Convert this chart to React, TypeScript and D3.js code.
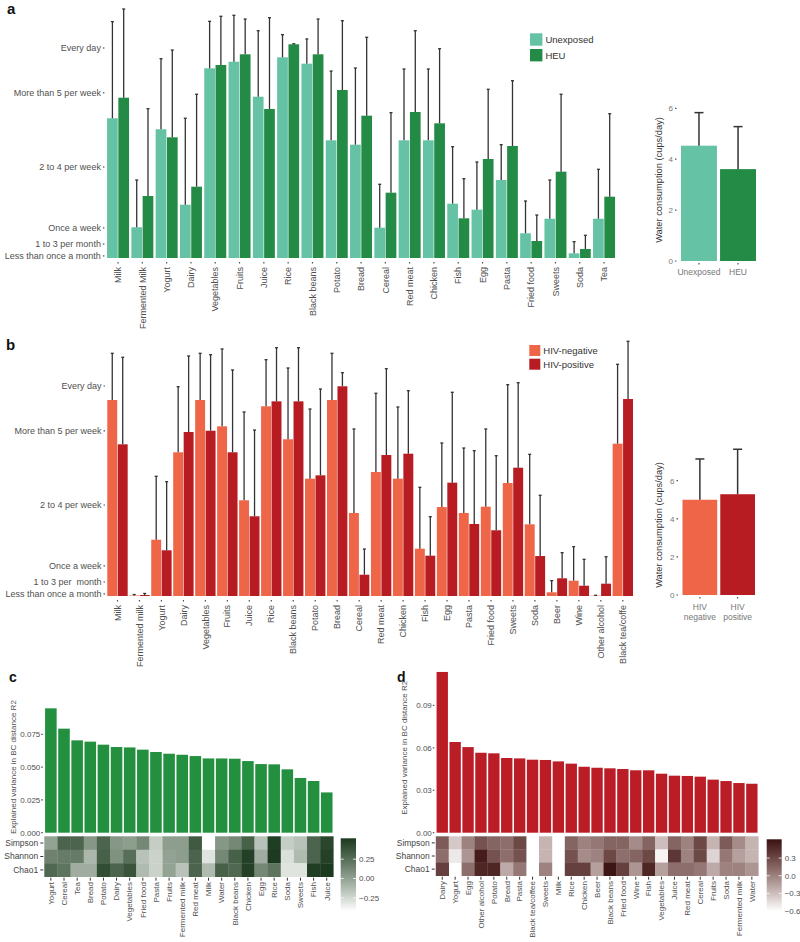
import React from 'react';
import * as d3 from 'd3';

const FONT = '"Liberation Sans", Arial, Helvetica, sans-serif';
const TXT = '#4f4f4f';
const ERR = '#333333';

// ---------- Panel a ----------
const catsA = ["Milk","Fermented Milk","Yogurt","Dairy","Vegetables","Fruits","Juice","Rice","Black beans","Potato","Bread","Cereal","Red meat","Chicken","Fish","Egg","Pasta","Fried food","Sweets","Soda","Tea"];
const unexposedMean = [19.96,4.39,18.39,7.61,27.1,28.04,23.04,28.67,27.76,16.81,16.19,4.33,16.81,16.81,7.76,6.9,11.14,3.53,5.61,0.67,5.61];
const unexposedUpper = [33.76,11.14,28.47,19.96,33.81,34.67,32.47,31.9,31.29,26.71,27.14,10.53,27,27,15.9,13.71,16.19,8.14,11.14,2.33,12.67];
const heuMean = [22.9,8.86,17.24,10.19,27.57,29.1,21.29,30.53,29.1,24,20.33,9.33,20.86,19.24,5.67,14.14,16,2.43,12.33,1.29,8.76];
const heuUpper = [35.57,21.33,29.71,23.39,34.53,34.14,34.33,30.61,34.14,33.9,31.53,20.76,32.47,29.9,11.33,24.1,25.33,6.14,23.39,3.24,20.61];
const seriesA = ["Unexposed","HEU"];

// frequency axis (times per month)
const freqTickValues = [0.3, 2, 4.3, 13, 23.6, 30];
const freqTickLabelsA = ["Less than once a month","1 to 3 per month","Once a week","2 to 4 per week","More than 5 per week","Every day"];
const freqTickLabelsB = ["Less than once a month","1 to 3 per  month","Once a week","2 to 4 per week","More than 5 per week","Every day"];

const waterGroupsA = [["Unexposed"],["HEU"]];
const waterMeanA = [4.53, 3.61];
const waterUpperA = [5.83, 5.28];
const waterTicks = [0, 2, 4, 6];

// ---------- Panel b ----------
const catsB = ["Milk","Fermented milk","Yogurt","Dairy","Vegetables","Fruits","Juice","Rice","Black beans","Potato","Bread","Cereal","Red meat","Chicken","Fish","Egg","Pasta","Fried food","Sweets","Soda","Beer","Wine","Other alcohol","Black tea/coffe"];
const hivNegMean = [28,0.07,8.04,20.53,28,24.24,13.67,27.1,22.39,16.76,28,11.86,17.71,16.76,6.76,12.71,11.86,12.76,16.14,10.24,0.53,2.19,0.05,21.76];
const hivNegUpper = [34.67,0.21,17.1,29.9,34.67,35.29,26.29,33.76,32.57,26.71,34.67,23.86,28.96,27,15.53,21.86,21.14,23.86,30.19,20.24,2.19,7.04,0.1,33.1];
const hivPosMean = [21.67,0.14,6.53,23.43,23.61,20.53,11.39,27.81,27.81,17.24,29.96,3.04,20.14,20.33,5.76,16.19,10.29,9.39,18.33,5.71,2.53,1.47,1.76,28.14];
const hivPosUpper = [34.1,0.36,16.33,34.29,34.47,32.29,23.71,35.47,35.47,29.57,31.9,6.71,32.47,29.33,11.33,29.1,20.76,20.04,30.47,14.39,6.19,5.24,5.61,36.39];
const seriesB = ["HIV-negative","HIV-positive"];

const waterGroupsB = [["HIV","negative"],["HIV","positive"]];
const waterMeanB = [5.0, 5.29];
const waterUpperB = [7.14, 7.65];

// ---------- Panel c ----------
const catsC = ["Yogurt","Cereal","Tea","Bread","Potato","Dairy","Vegetables","Fried food","Pasta","Fruits","Fermented milk","Red meat","Milk","Water","Black beans","Chicken","Egg","Rice","Soda","Sweets","Fish","Juice"];
const r2C = [0.0948,0.0793,0.0704,0.0694,0.0671,0.0653,0.065,0.0633,0.0615,0.0602,0.0594,0.0584,0.0566,0.0566,0.0564,0.0546,0.0523,0.0521,0.0483,0.0417,0.0394,0.0307];
const simpsonC = [0.0,0.3,0.3,0.05,0.3,0.05,0.02,0.12,-0.2,0.02,0.02,0.35,-0.45,0.05,0.12,0.32,-0.15,0.5,-0.2,-0.15,0.3,0.45];
const shannonC = [0.15,0.18,0.18,-0.1,0.32,0.08,0.25,-0.15,-0.22,0.0,0.02,0.3,-0.3,0.12,0.32,0.48,-0.05,0.52,-0.28,-0.12,0.3,0.48];
const chao1C = [0.28,0.22,-0.05,-0.05,0.42,0.3,0.38,-0.12,-0.22,0.0,-0.15,0.3,-0.12,0.32,0.28,0.48,0.12,0.22,-0.3,-0.3,0.5,0.52];
const ticksC = [0, 0.025, 0.05, 0.075];
const cbTicksC = [-0.25, 0, 0.25];

// ---------- Panel d ----------
const catsD = ["Dairy","Yogurt","Egg","Other alcohol","Potato","Bread","Pasta","Black tea/coffee","Sweets","Milk","Rice","Chicken","Beer","Black beans","Fried food","Wine","Fish","Vegetables","Juice","Red meat","Cereal","Fruits","Soda","Fermented milk","Water"];
const r2D = [0.1136,0.0641,0.0605,0.0565,0.0561,0.0528,0.0525,0.0516,0.0514,0.0504,0.0488,0.0466,0.0459,0.0455,0.045,0.0441,0.0441,0.0417,0.0403,0.0401,0.0396,0.0375,0.0365,0.0351,0.0346];
const simpsonD = [0.2,-0.35,0.0,0.25,0.15,0.1,0.3,null,-0.25,null,0.15,0.0,0.05,0.15,0.15,-0.05,0.15,-0.3,0.15,0.0,0.3,-0.25,0.2,-0.05,-0.25];
const shannonD = [0.1,-0.5,-0.1,0.55,0.25,0.1,0.25,null,-0.25,null,0.25,-0.05,0.0,0.3,0.1,0.15,0.3,-0.55,0.4,0.0,0.3,-0.4,0.05,-0.15,-0.25];
const chao1D = [0.35,null,0.1,0.5,0.5,-0.2,0.05,null,0.0,null,0.35,0.35,-0.15,0.6,0.35,-0.1,0.5,-0.15,0.1,0.1,0.05,-0.2,0.0,0.0,-0.1];
const ticksD = [0, 0.03, 0.06, 0.09];
const cbTicksD = [-0.6, -0.3, 0, 0.3];

const heatRows = ["Simpson","Shannon","Chao1"];

type GBProps = {
  cats: string[]; m1: number[]; u1: number[]; m2: number[]; u2: number[];
  colors: string[]; x0: number; x1: number; pad: number; y0: number; yTop: number;
  tickLabels: string[]; labelY: number;
};

function GroupedBars(p: GBProps) {
  const x = d3.scaleBand<string>().domain(p.cats).range([p.x0, p.x1]).paddingInner(p.pad).paddingOuter(p.pad / 2);
  const sub = d3.scaleBand<string>().domain(["a", "b"]).range([0, x.bandwidth()]).paddingInner(0.05);
  const y = d3.scaleLinear().domain([0, 30]).range([p.y0, p.yTop]);
  const bw = sub.bandwidth();
  const series = [
    { k: "a", m: p.m1, u: p.u1, c: p.colors[0] },
    { k: "b", m: p.m2, u: p.u2, c: p.colors[1] },
  ];
  return (
    <g>
      {freqTickValues.map((v, i) => (
        <g key={"t" + i}>
          <line x1={p.x0 - 3} x2={p.x0 - 1.5} y1={y(v)} y2={y(v)} stroke={TXT} strokeWidth={1.2} />
          <text x={p.x0 - 5} y={y(v)} dy="0.35em" textAnchor="end" fontSize={9} fill={TXT} style={{ whiteSpace: 'pre' }}>{p.tickLabels[i]}</text>
        </g>
      ))}
      {p.cats.map((c, i) => (
        <g key={c}>
          {series.map((s) => {
            const bx = (x(c) as number) + (sub(s.k) as number);
            return (
              <rect key={s.k} x={bx} y={y(s.m[i])} width={bw} height={Math.max(0, p.y0 - y(s.m[i]))} fill={s.c} />
            );
          })}
        </g>
      ))}
      {p.cats.map((c, i) => (
        <g key={"e" + c}>
          {series.map((s) => {
            const cx = (x(c) as number) + (sub(s.k) as number) + bw / 2;
            return (
              <g key={s.k}>
                <line x1={cx} x2={cx} y1={y(s.m[i])} y2={y(s.u[i])} stroke={ERR} strokeWidth={1.3} />
                <line x1={cx - 1.5} x2={cx + 1.5} y1={y(s.u[i])} y2={y(s.u[i])} stroke={ERR} strokeWidth={1.3} />
              </g>
            );
          })}
        </g>
      ))}
      {p.cats.map((c) => {
        const cx = (x(c) as number) + x.bandwidth() / 2;
        return (
          <g key={"l" + c}>
            <line x1={cx} x2={cx} y1={p.y0 + 4} y2={p.y0 + 5.5} stroke={TXT} strokeWidth={1.2} />
            <text transform={`translate(${cx},${p.labelY}) rotate(-90)`} dy="0.35em" textAnchor="end" fontSize={9} fill={TXT}>{c}</text>
          </g>
        );
      })}
    </g>
  );
}

type WProps = {
  groups: string[][]; mean: number[]; upper: number[]; colors: string[];
  x0: number; x1: number; y0: number; y6: number; labelY: number; titleX: number; titleY: number;
};

function WaterInset(p: WProps) {
  const keys = p.groups.map((g) => g.join(" "));
  const x = d3.scaleBand<string>().domain(keys).range([p.x0, p.x1]).paddingInner(0.08);
  const y = d3.scaleLinear().domain([0, 6]).range([p.y0, p.y6]);
  return (
    <g>
      {waterTicks.map((t) => (
        <g key={t}>
          <line x1={p.x0 - 6} x2={p.x0 - 4.5} y1={y(t)} y2={y(t)} stroke={TXT} strokeWidth={1.2} />
          <text x={p.x0 - 8} y={y(t)} dy="0.35em" textAnchor="end" fontSize={8} fill="#777">{t}</text>
        </g>
      ))}
      {keys.map((k, i) => {
        const bx = x(k) as number;
        const cx = bx + x.bandwidth() / 2;
        return (
          <g key={k}>
            <rect x={bx} y={y(p.mean[i])} width={x.bandwidth()} height={p.y0 - y(p.mean[i])} fill={p.colors[i]} />
            <line x1={cx} x2={cx} y1={y(p.mean[i])} y2={y(p.upper[i])} stroke={ERR} strokeWidth={1.5} />
            <line x1={cx - 4.5} x2={cx + 4.5} y1={y(p.upper[i])} y2={y(p.upper[i])} stroke={ERR} strokeWidth={1.5} />
            <line x1={cx} x2={cx} y1={p.y0 + 2} y2={p.y0 + 3.5} stroke={TXT} strokeWidth={1.2} />
            <text x={cx} y={p.labelY} textAnchor="middle" fontSize={8.5} fill="#777">
              {p.groups[i].map((line, j) => (
                <tspan key={j} x={cx} dy={j === 0 ? 0 : 9.5}>{line}</tspan>
              ))}
            </text>
          </g>
        );
      })}
      <text transform={`translate(${p.titleX},${p.titleY}) rotate(-90)`} textAnchor="middle" fontSize={9.3} fill="#333">Water consumption (cups/day)</text>
    </g>
  );
}

function Legend({ x, y, size, step, labels, colors }: { x: number; y: number; size: number; step: number; labels: string[]; colors: string[] }) {
  return (
    <g>
      {labels.map((l, i) => (
        <g key={l}>
          <rect x={x} y={y + i * step} width={size} height={size} fill={colors[i]} />
          <text x={x + size + 3} y={y + i * step + size / 2} dy="0.35em" fontSize={9.5} fill="#333">{l}</text>
        </g>
      ))}
    </g>
  );
}

type HProps = {
  id: string; cats: string[]; r2: number[]; rows: (number | null)[][]; barColor: string;
  x0: number; x1: number; yZero: number; yMaxPx: number; yMax: number; ticks: number[]; fmt: string;
  heatTop: number; heatBottom: number; cDomain: [number, number]; cHigh: string;
  cbX: number; cbW: number; cbTop: number; cbBottom: number; cbTicks: number[]; cbFmt: string;
  titleX: number; labelY: number;
};

function HeatPanel(p: HProps) {
  const x = d3.scaleBand<string>().domain(p.cats).range([p.x0, p.x1]);
  const y = d3.scaleLinear().domain([0, p.yMax]).range([p.yZero, p.yMaxPx]);
  const yr = d3.scaleBand<string>().domain(heatRows).range([p.heatTop, p.heatBottom]);
  const col = d3.scaleLinear<string>().domain(p.cDomain).range(["#ffffff", p.cHigh]).interpolate(d3.interpolateLab).clamp(true);
  const cb = d3.scaleLinear().domain(p.cDomain).range([p.cbBottom, p.cbTop]);
  const barPad = 0.12;
  const bw = x.bandwidth() * (1 - barPad);
  const stops = d3.range(0, 1.0001, 0.1);
  const fmt = d3.format(p.fmt);
  const cbf = d3.format(p.cbFmt);
  return (
    <g>
      <defs>
        <linearGradient id={p.id} x1="0" y1="1" x2="0" y2="0">
          {stops.map((s) => (
            <stop key={s} offset={s} stopColor={col(p.cDomain[0] + s * (p.cDomain[1] - p.cDomain[0]))} />
          ))}
        </linearGradient>
      </defs>
      {p.ticks.map((t) => (
        <g key={t}>
          <line x1={p.x0 - 3} x2={p.x0 - 1.5} y1={y(t)} y2={y(t)} stroke={TXT} strokeWidth={1.2} />
          <text x={p.x0 - 4} y={y(t)} dy="0.35em" textAnchor="end" fontSize={8} fill={TXT}>{fmt(t)}</text>
        </g>
      ))}
      <text transform={`translate(${p.titleX},${(p.yZero + p.yMaxPx) / 2}) rotate(-90)`} textAnchor="middle" fontSize={8} fill={TXT}>Explained variance in BC distance R2</text>
      {p.cats.map((c, i) => (
        <rect key={c} x={(x(c) as number) + (x.bandwidth() - bw) / 2} y={y(p.r2[i])} width={bw} height={p.yZero - y(p.r2[i])} fill={p.barColor} />
      ))}
      {heatRows.map((r, ri) => (
        <g key={r}>
          {p.cats.map((c, i) => {
            const v = p.rows[ri][i];
            if (v === null) return null;
            return <rect key={c} x={x(c) as number} y={yr(r) as number} width={x.bandwidth() + 0.3} height={yr.bandwidth() + 0.3} fill={col(v)} />;
          })}
          <line x1={p.x0 - 4} x2={p.x0 - 1} y1={(yr(r) as number) + yr.bandwidth() / 2} y2={(yr(r) as number) + yr.bandwidth() / 2} stroke="#333" strokeWidth={1} />
          <text x={p.x0 - 6} y={(yr(r) as number) + yr.bandwidth() / 2} dy="0.35em" textAnchor="end" fontSize={8.5} fill="#444">{r}</text>
        </g>
      ))}
      {p.cats.map((c) => {
        const cx = (x(c) as number) + x.bandwidth() / 2;
        return (
          <g key={"l" + c}>
            <line x1={cx} x2={cx} y1={p.heatBottom + 1} y2={p.heatBottom + 4} stroke="#333" strokeWidth={1} />
            <text transform={`translate(${cx},${p.labelY}) rotate(-90)`} dy="0.35em" textAnchor="end" fontSize={8} fill={TXT}>{c}</text>
          </g>
        );
      })}
      <rect x={p.cbX} y={p.cbTop} width={p.cbW} height={p.cbBottom - p.cbTop} fill={`url(#${p.id})`} />
      {p.cbTicks.map((t) => (
        <g key={t}>
          <line x1={p.cbX} x2={p.cbX + 3} y1={cb(t)} y2={cb(t)} stroke="#fff" strokeWidth={0.8} />
          <line x1={p.cbX + p.cbW - 3} x2={p.cbX + p.cbW} y1={cb(t)} y2={cb(t)} stroke="#fff" strokeWidth={0.8} />
          <text x={p.cbX + p.cbW + 3} y={cb(t)} dy="0.35em" fontSize={8} fill={TXT}>{cbf(t)}</text>
        </g>
      ))}
    </g>
  );
}

export default function App() {
  const colA = ["#66c2a4", "#238b45"];
  const colB = ["#ef6548", "#b71c23"];
  return (
    <div style={{ position: 'absolute', left: 0, top: 0 }}>
      <svg width={800} height={942} style={{ display: 'block', fontFamily: FONT, background: '#fff' }}>
        <rect x={0} y={0} width={800} height={942} fill="#fff" />
        {/* Panel a */}
        <text x={7} y={14} fontSize={15} fontWeight="bold" fill="#111">a</text>
        <GroupedBars cats={catsA} m1={unexposedMean} u1={unexposedUpper} m2={heuMean} u2={heuUpper}
          colors={colA} x0={105.9} x1={616.2} pad={0.095} y0={258} yTop={48} tickLabels={freqTickLabelsA} labelY={267} />
        <Legend x={530} y={33.3} size={12.4} step={15.7} labels={seriesA} colors={colA} />
        <WaterInset groups={waterGroupsA} mean={waterMeanA} upper={waterUpperA} colors={colA}
          x0={681} x1={756} y0={261} y6={108.3} labelY={274.5} titleX={662} titleY={180} />

        {/* Panel b */}
        <text x={6} y={350} fontSize={15} fontWeight="bold" fill="#111">b</text>
        <GroupedBars cats={catsB} m1={hivNegMean} u1={hivNegUpper} m2={hivPosMean} u2={hivPosUpper}
          colors={colB} x0={106.5} x1={633.8} pad={0.072} y0={596} yTop={386} tickLabels={freqTickLabelsB} labelY={605} />
        <Legend x={529.3} y={345} size={11} step={13.7} labels={seriesB} colors={colB} />
        <WaterInset groups={waterGroupsB} mean={waterMeanB} upper={waterUpperB} colors={colB}
          x0={682.5} x1={755} y0={595} y6={480.7} labelY={610} titleX={662} titleY={525} />

        {/* Panel c */}
        <text x={9} y={682} fontSize={14} fontWeight="bold" fill="#111">c</text>
        <HeatPanel id="gradC" cats={catsC} r2={r2C} rows={[simpsonC, shannonC, chao1C]} barColor="#22903f"
          x0={44.3} x1={333.3} yZero={832.7} yMaxPx={701.5} yMax={0.1} ticks={ticksC} fmt=".3f"
          heatTop={836.3} heatBottom={876.7} cDomain={[-0.42, 0.52]} cHigh="#1b3a1f"
          cbX={340.7} cbW={15.3} cbTop={838.3} cbBottom={911} cbTicks={cbTicksC} cbFmt=".2f"
          titleX={16} labelY={882} />

        {/* Panel d */}
        <text x={397} y={682} fontSize={14} fontWeight="bold" fill="#111">d</text>
        <HeatPanel id="gradD" cats={catsD} r2={r2D} rows={[simpsonD, shannonD, chao1D]} barColor="#bb1d26"
          x0={435.8} x1={758.3} yZero={832.7} yMaxPx={662.9} yMax={0.12} ticks={ticksD} fmt=".2f"
          heatTop={836.3} heatBottom={875.7} cDomain={[-0.6, 0.62]} cHigh="#3b1111"
          cbX={766.7} cbW={15} cbTop={839.3} cbBottom={911} cbTicks={cbTicksD} cbFmt=".1f"
          titleX={407} labelY={881} />
      </svg>
    </div>
  );
}
